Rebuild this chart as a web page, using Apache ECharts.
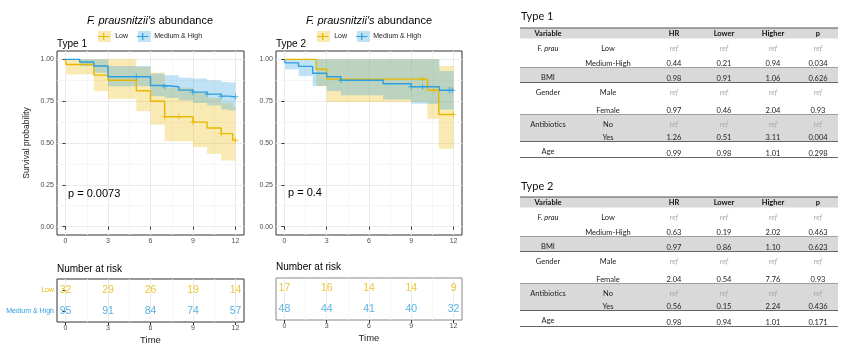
<!DOCTYPE html>
<html><head><meta charset="utf-8">
<script src="https://cdn.jsdelivr.net/npm/echarts@6/dist/echarts.min.js"></script>
<style>html,body{margin:0;padding:0;background:#fff}#c{width:849px;height:347px}</style>
</head><body><div id="c"></div>
<script>
// ---------------- DATA ----------------
const groupNames = ['Low', 'Medium & High'];
const timeTicks = [0, 3, 6, 9, 12];
const timeMinor = [1.5, 4.5, 7.5, 10.5];
const survTicks = [0, 0.25, 0.5, 0.75, 1];
const survMinor = [0.125, 0.375, 0.625, 0.875];

// Type 1 - Low
const t1LowTime  = [0, 0.05, 2, 3, 5, 6, 7, 9, 10, 11, 11.8, 12];
const t1LowSurv  = [1, 0.969, 0.906, 0.875, 0.812, 0.75, 0.657, 0.625, 0.59, 0.556, 0.517, 0.517];
const t1LowLower = [1, 0.91, 0.81, 0.765, 0.69, 0.61, 0.51, 0.475, 0.435, 0.395, 0.395, 0.395];
const t1LowUpper = [1, 1, 1, 1, 0.955, 0.92, 0.83, 0.8, 0.77, 0.74, 0.72, 0.72];
const t1LowCensTime = [7, 8, 9, 11, 12];
const t1LowCensSurv = [0.657, 0.657, 0.625, 0.556, 0.517];
// Type 1 - Medium & High
const t1MhTime  = [0, 1, 2, 3, 6, 7, 8, 9, 10, 11, 11.5, 12];
const t1MhSurv  = [1, 0.984, 0.96, 0.896, 0.844, 0.836, 0.816, 0.804, 0.792, 0.78, 0.776, 0.776];
const t1MhLower = [1, 0.96, 0.92, 0.84, 0.78, 0.77, 0.755, 0.74, 0.725, 0.7, 0.695, 0.695];
const t1MhUpper = [1, 1, 1, 0.96, 0.915, 0.905, 0.89, 0.885, 0.875, 0.865, 0.862, 0.862];
const t1MhCensTime = [5, 7, 9, 10, 11, 12];
const t1MhCensSurv = [0.896, 0.836, 0.804, 0.792, 0.78, 0.776];

// Type 2 - Low
const t2LowTime  = [0, 2.25, 3, 10.15, 10.95, 12];
const t2LowSurv  = [1, 0.941, 0.882, 0.815, 0.67, 0.67];
const t2LowLower = [1, 0.84, 0.745, 0.645, 0.465, 0.465];
const t2LowUpper = [1, 1, 1, 1, 0.96, 0.96];
const t2LowCensTime = [9.8, 10.6, 12];
const t2LowCensSurv = [0.882, 0.815, 0.67];
// Type 2 - Medium & High
const t2MhTime  = [0, 0.05, 1, 2, 3, 4, 7, 9, 11, 12];
const t2MhSurv  = [1, 0.979, 0.958, 0.917, 0.896, 0.875, 0.854, 0.836, 0.815, 0.815];
const t2MhLower = [1, 0.94, 0.9, 0.84, 0.81, 0.785, 0.76, 0.735, 0.70, 0.70];
const t2MhUpper = [1, 1, 1, 1, 1, 1, 1, 1, 0.93, 0.93];
const t2MhCensTime = [4, 9, 9.8, 11.7, 11.9];
const t2MhCensSurv = [0.875, 0.836, 0.836, 0.815, 0.815];

// Number at risk
const riskTimes = [0, 3, 6, 9, 12];
const risk1Low = [32, 29, 26, 19, 14];
const risk1Mh  = [95, 91, 84, 74, 57];
const risk2Low = [17, 16, 14, 14, 9];
const risk2Mh  = [48, 44, 41, 40, 32];

const pValue1 = 'p = 0.0073';
const pValue2 = 'p = 0.4';

// Cox tables
const tableHeader = ['Variable', '', 'HR', 'Lower', 'Higher', 'p'];
const tableVar   = ['F. prau', '', 'BMI', 'Gender', '', 'Antibiotics', '', 'Age'];
const tableLevel = ['Low', 'Medium-High', '', 'Male', 'Female', 'No', 'Yes', ''];
const t1HR     = ['ref', '0.44', '0.98', 'ref', '0.97', 'ref', '1.26', '0.99'];
const t1Lower  = ['ref', '0.21', '0.91', 'ref', '0.46', 'ref', '0.51', '0.98'];
const t1Higher = ['ref', '0.94', '1.06', 'ref', '2.04', 'ref', '3.11', '1.01'];
const t1P      = ['ref', '0.034', '0.626', 'ref', '0.93', 'ref', '0.004', '0.298'];
const t2HR     = ['ref', '0.63', '0.97', 'ref', '2.04', 'ref', '0.56', '0.98'];
const t2Lower  = ['ref', '0.19', '0.86', 'ref', '0.54', 'ref', '0.15', '0.94'];
const t2Higher = ['ref', '2.02', '1.10', 'ref', '7.76', 'ref', '2.24', '1.01'];
const t2P      = ['ref', '0.463', '0.623', 'ref', '0.93', 'ref', '0.436', '0.171'];

// ---------------- STYLE / LAYOUT ----------------
const FONT = 'Liberation Sans';
const TFONT = 'Lato';
const COL = { low: '#E7B800', mh: '#2E9FDF' };
const FILL = { low: 'rgba(231,184,0,0.3)', mh: 'rgba(46,159,223,0.3)' };
const XMIN = -0.6, XMAX = 12.6, YMIN = -0.05, YMAX = 1.05;

const zip = (a, b) => a.map((v, i) => [v, b[i]]);
const bandData = (t, lo, hi) => t.slice(0, -1).map((v, i) => [v, t[i + 1], lo[i], hi[i]]);

function mainX(grid, extra) {
  return Object.assign({
    type: 'value', gridIndex: grid, min: XMIN, max: XMAX,
    axisLine: { show: false },
    axisTick: { show: true, length: 3, lineStyle: { color: '#333', width: 1 }, customValues: timeTicks },
    axisLabel: { fontSize: 7, color: '#4d4d4d', margin: 3, fontFamily: FONT, customValues: timeTicks },
    splitLine: { show: true, lineStyle: { color: '#ebebeb', width: 1 } }
  }, extra || {});
}
function minorX(grid) {
  return {
    type: 'value', gridIndex: grid, min: XMIN, max: XMAX,
    axisLine: { show: false }, axisLabel: { show: false },
    axisTick: { show: false, customValues: timeMinor },
    splitLine: { show: true, lineStyle: { color: '#f4f4f4', width: 0.8 } }
  };
}
function mainY(grid, extra) {
  return Object.assign({
    type: 'value', gridIndex: grid, min: YMIN, max: YMAX,
    axisLine: { show: false },
    axisTick: { show: true, length: 3, lineStyle: { color: '#333', width: 1 }, customValues: survTicks },
    axisLabel: { fontSize: 7, color: '#4d4d4d', margin: 3, fontFamily: FONT, customValues: survTicks,
                 formatter: v => v.toFixed(2) },
    splitLine: { show: true, lineStyle: { color: '#ebebeb', width: 1 } }
  }, extra || {});
}
function minorY(grid) {
  return {
    type: 'value', gridIndex: grid, min: YMIN, max: YMAX,
    axisLine: { show: false }, axisLabel: { show: false },
    axisTick: { show: false, customValues: survMinor },
    splitLine: { show: true, lineStyle: { color: '#f4f4f4', width: 0.8 } }
  };
}

function bandSeries(name, xi, yi, data, fill) {
  return {
    type: 'custom', name: name, xAxisIndex: xi, yAxisIndex: yi, silent: true,
    itemStyle: { color: fill },
    encode: { x: [0, 1], y: [2, 3] },
    data: data,
    renderItem: (params, api) => {
      const p1 = api.coord([api.value(0), api.value(3)]);
      const p2 = api.coord([api.value(1), api.value(2)]);
      return { type: 'rect', shape: { x: p1[0], y: p1[1], width: p2[0] - p1[0], height: Math.max(p2[1] - p1[1], 0) },
               style: { fill: fill } };
    }
  };
}
function lineSeries(name, xi, yi, data, color) {
  return { type: 'line', name: name, xAxisIndex: xi, yAxisIndex: yi, step: 'end', symbol: 'none',
           lineStyle: { color: color, width: 1.4 }, itemStyle: { color: color }, data: data, silent: true, z: 3 };
}
const PLUS = 'path://M0,4.2H10V5.8H0Z M4.2,0H5.8V10H4.2Z';
function censSeries(name, xi, yi, data, color) {
  return { type: 'scatter', name: name, xAxisIndex: xi, yAxisIndex: yi, symbol: PLUS, symbolSize: 6,
           itemStyle: { color: color }, data: data, silent: true, z: 4 };
}
function riskSeries(name, xi, yi, times, vals, color) {
  return { type: 'scatter', name: name, xAxisIndex: xi, yAxisIndex: yi, symbolSize: 1,
           itemStyle: { color: 'rgba(0,0,0,0)' }, silent: true,
           label: { show: true, position: 'inside', formatter: p => p.value[2], fontSize: 10.5, color: color, fontFamily: FONT },
           data: times.map((t, i) => [t, name, vals[i]]) };
}

const LEG_ICON = 'path://M0,3.3H13V4.7H0Z M5.8,0H7.2V8H5.8Z';
function legends(left, top) {
  const ts = { fontSize: 7, fontFamily: FONT, color: '#222' };
  return [
    { left: left, top: top, padding: 0, itemWidth: 13, itemHeight: 11, itemGap: 9, selectedMode: false,
      textStyle: Object.assign({}, ts, { color: 'rgba(0,0,0,0)' }),
      data: [{ name: groupNames[0], icon: 'rect', itemStyle: { color: FILL.low, borderWidth: 0 } },
             { name: groupNames[1], icon: 'rect', itemStyle: { color: FILL.mh, borderWidth: 0 } }] },
    { left: left, top: top + 2, padding: 0, itemWidth: 13, itemHeight: 7, itemGap: 9, selectedMode: false,
      textStyle: ts,
      data: [{ name: groupNames[0], icon: LEG_ICON, itemStyle: { color: COL.low, borderWidth: 0 } },
             { name: groupNames[1], icon: LEG_ICON, itemStyle: { color: COL.mh, borderWidth: 0 } }] }
  ];
}
function txt(text, left, top, size, extra) {
  return Object.assign({ text: text, left: left, top: top, padding: 0,
    textStyle: { fontSize: size, fontWeight: 'normal', color: '#000', fontFamily: FONT } }, extra || {});
}
function plotTitle(cx) {
  return { text: "{i|F. prausnitzii's} abundance", left: cx, top: 15, padding: 0, textAlign: 'center',
           textStyle: { fontSize: 11, fontWeight: 'normal', color: '#000', fontFamily: FONT,
                        rich: { i: { fontStyle: 'italic', fontSize: 11, fontFamily: FONT, color: '#000' } } } };
}

// ---------- Cox tables (graphic) ----------
const TABLE_X0 = 520, TABLE_X1 = 838;
const COL_X = [548, 608, 674, 724, 773, 818];
const HEADER_H = 10.5;
const GROUP_H = [29, 15, 32, 27, 16];
const GROUP_ROWS = [[0, 1], [2], [3, 4], [5, 6], [7]];
function buildTable(top, cols) {
  const els = [];
  const w = TABLE_X1 - TABLE_X0;
  els.push({ type: 'rect', shape: { x: TABLE_X0, y: top, width: w, height: HEADER_H }, style: { fill: '#d9d9d9' } });
  els.push({ type: 'line', shape: { x1: TABLE_X0, y1: top, x2: TABLE_X1, y2: top }, style: { stroke: '#555', lineWidth: 1.2 } });
  tableHeader.forEach((h, c) => {
    if (!h) return;
    els.push({ type: 'text', x: COL_X[c], y: top + HEADER_H / 2 + 0.5,
      style: { text: h, fontSize: 7.5, fontWeight: 'bold', fontFamily: TFONT, fill: '#111', align: 'center', verticalAlign: 'middle' } });
  });
  let y = top + HEADER_H;
  GROUP_ROWS.forEach((rows, g) => {
    const gTop = y, gBot = y + GROUP_H[g];
    if (g % 2 === 1) els.push({ type: 'rect', shape: { x: TABLE_X0, y: gTop, width: w, height: GROUP_H[g] }, style: { fill: '#d9d9d9' } });
    rows.forEach((ri, k) => {
      const labelY = k === 0 ? gTop + 10.5 : gBot - 4;
      if (tableVar[ri]) {
        const it = tableVar[ri] === 'F. prau';
        els.push({ type: 'text', x: COL_X[0], y: labelY,
          style: { text: tableVar[ri], fontSize: 7.5, fontStyle: it ? 'italic' : 'normal', fontFamily: TFONT, fill: '#222', align: 'center', verticalAlign: 'middle' } });
      }
      if (tableLevel[ri]) {
        els.push({ type: 'text', x: COL_X[1], y: labelY,
          style: { text: tableLevel[ri], fontSize: 7.5, fontFamily: TFONT, fill: '#222', align: 'center', verticalAlign: 'middle' } });
      }
      cols.forEach((col, c) => {
        const v = col[ri];
        if (v === 'ref') {
          els.push({ type: 'text', x: COL_X[c + 2], y: labelY,
            style: { text: v, fontSize: 7.5, fontStyle: 'italic', fontFamily: TFONT, fill: '#aaa', align: 'center', verticalAlign: 'middle' } });
        } else {
          els.push({ type: 'text', x: COL_X[c + 2], y: gBot + 0.5,
            style: { text: v, fontSize: 7.5, fontFamily: TFONT, fill: '#222', align: 'center', verticalAlign: 'bottom' } });
        }
      });
    });
    els.push({ type: 'line', shape: { x1: TABLE_X0, y1: gBot, x2: TABLE_X1, y2: gBot }, style: { stroke: '#555', lineWidth: 0.9 } });
    y = gBot;
  });
  return els;
}

// ---------------- OPTION ----------------
const chart = echarts.init(document.getElementById('c'), null, { renderer: 'canvas' });
const option = {
  animation: false,
  backgroundColor: '#fff',
  textStyle: { fontFamily: FONT },
  grid: [
    { left: 57, top: 51, width: 187, height: 184, show: true, borderColor: '#333', borderWidth: 1, backgroundColor: '#fff' },
    { left: 276, top: 51, width: 186, height: 184, show: true, borderColor: '#333', borderWidth: 1, backgroundColor: '#fff' },
    { left: 57, top: 279, width: 187, height: 43, show: true, borderColor: '#333', borderWidth: 1, backgroundColor: '#fff' },
    { left: 276, top: 278, width: 186, height: 42, show: true, borderColor: '#888', borderWidth: 1, backgroundColor: '#fff' }
  ],
  xAxis: [
    mainX(0), minorX(0), mainX(1), minorX(1),
    mainX(2, { name: 'Time', nameLocation: 'middle', nameGap: 13, nameTextStyle: { fontSize: 9.5, color: '#222', fontFamily: FONT } }), minorX(2),
    mainX(3, { name: 'Time', nameLocation: 'middle', nameGap: 13, nameTextStyle: { fontSize: 9.5, color: '#222', fontFamily: FONT } }), minorX(3)
  ],
  yAxis: [
    mainY(0, { name: 'Survival probability', nameLocation: 'middle', nameGap: 26, nameRotate: 90,
               nameTextStyle: { fontSize: 8.5, color: '#222', fontFamily: FONT } }),
    minorY(0), mainY(1), minorY(1),
    { type: 'category', gridIndex: 2, data: [groupNames[1], groupNames[0]],
      axisLine: { show: false }, splitLine: { show: false },
      axisTick: { show: true, length: 3, alignWithLabel: true, lineStyle: { color: '#333' } },
      axisLabel: { fontSize: 7, margin: 3, fontFamily: FONT, color: v => v === groupNames[0] ? COL.low : COL.mh } },
    { type: 'category', gridIndex: 3, data: [groupNames[1], groupNames[0]],
      axisLine: { show: false }, splitLine: { show: false }, axisTick: { show: false }, axisLabel: { show: false } }
  ],
  legend: [].concat(legends(98, 31), legends(317, 31)),
  title: [
    plotTitle(150), plotTitle(369),
    txt('Type 1', 57, 39, 10), txt('Type 2', 276, 39, 10),
    txt(pValue1, 68, 188, 11), txt(pValue2, 288, 187, 11),
    txt('Number at risk', 57, 264, 10), txt('Number at risk', 276, 262, 10),
    txt('Type 1', 521, 11, 11, { textStyle: { fontSize: 11, fontWeight: 'normal', color: '#111', fontFamily: TFONT } }),
    txt('Type 2', 521, 181, 11, { textStyle: { fontSize: 11, fontWeight: 'normal', color: '#111', fontFamily: TFONT } })
  ],
  series: [
    bandSeries(groupNames[0], 0, 0, bandData(t1LowTime, t1LowLower, t1LowUpper), FILL.low),
    bandSeries(groupNames[1], 0, 0, bandData(t1MhTime, t1MhLower, t1MhUpper), FILL.mh),
    lineSeries(groupNames[0], 0, 0, zip(t1LowTime, t1LowSurv), COL.low),
    lineSeries(groupNames[1], 0, 0, zip(t1MhTime, t1MhSurv), COL.mh),
    censSeries(groupNames[0], 0, 0, zip(t1LowCensTime, t1LowCensSurv), COL.low),
    censSeries(groupNames[1], 0, 0, zip(t1MhCensTime, t1MhCensSurv), COL.mh),

    bandSeries(groupNames[0], 2, 2, bandData(t2LowTime, t2LowLower, t2LowUpper), FILL.low),
    bandSeries(groupNames[1], 2, 2, bandData(t2MhTime, t2MhLower, t2MhUpper), FILL.mh),
    lineSeries(groupNames[0], 2, 2, zip(t2LowTime, t2LowSurv), COL.low),
    lineSeries(groupNames[1], 2, 2, zip(t2MhTime, t2MhSurv), COL.mh),
    censSeries(groupNames[0], 2, 2, zip(t2LowCensTime, t2LowCensSurv), COL.low),
    censSeries(groupNames[1], 2, 2, zip(t2MhCensTime, t2MhCensSurv), COL.mh),

    riskSeries(groupNames[0], 4, 4, riskTimes, risk1Low, COL.low),
    riskSeries(groupNames[1], 4, 4, riskTimes, risk1Mh, COL.mh),
    riskSeries(groupNames[0], 6, 5, riskTimes, risk2Low, COL.low),
    riskSeries(groupNames[1], 6, 5, riskTimes, risk2Mh, COL.mh)
  ],
  graphic: [].concat(buildTable(28, [t1HR, t1Lower, t1Higher, t1P]), buildTable(197, [t2HR, t2Lower, t2Higher, t2P]))
};
chart.setOption(option);
</script></body></html>
